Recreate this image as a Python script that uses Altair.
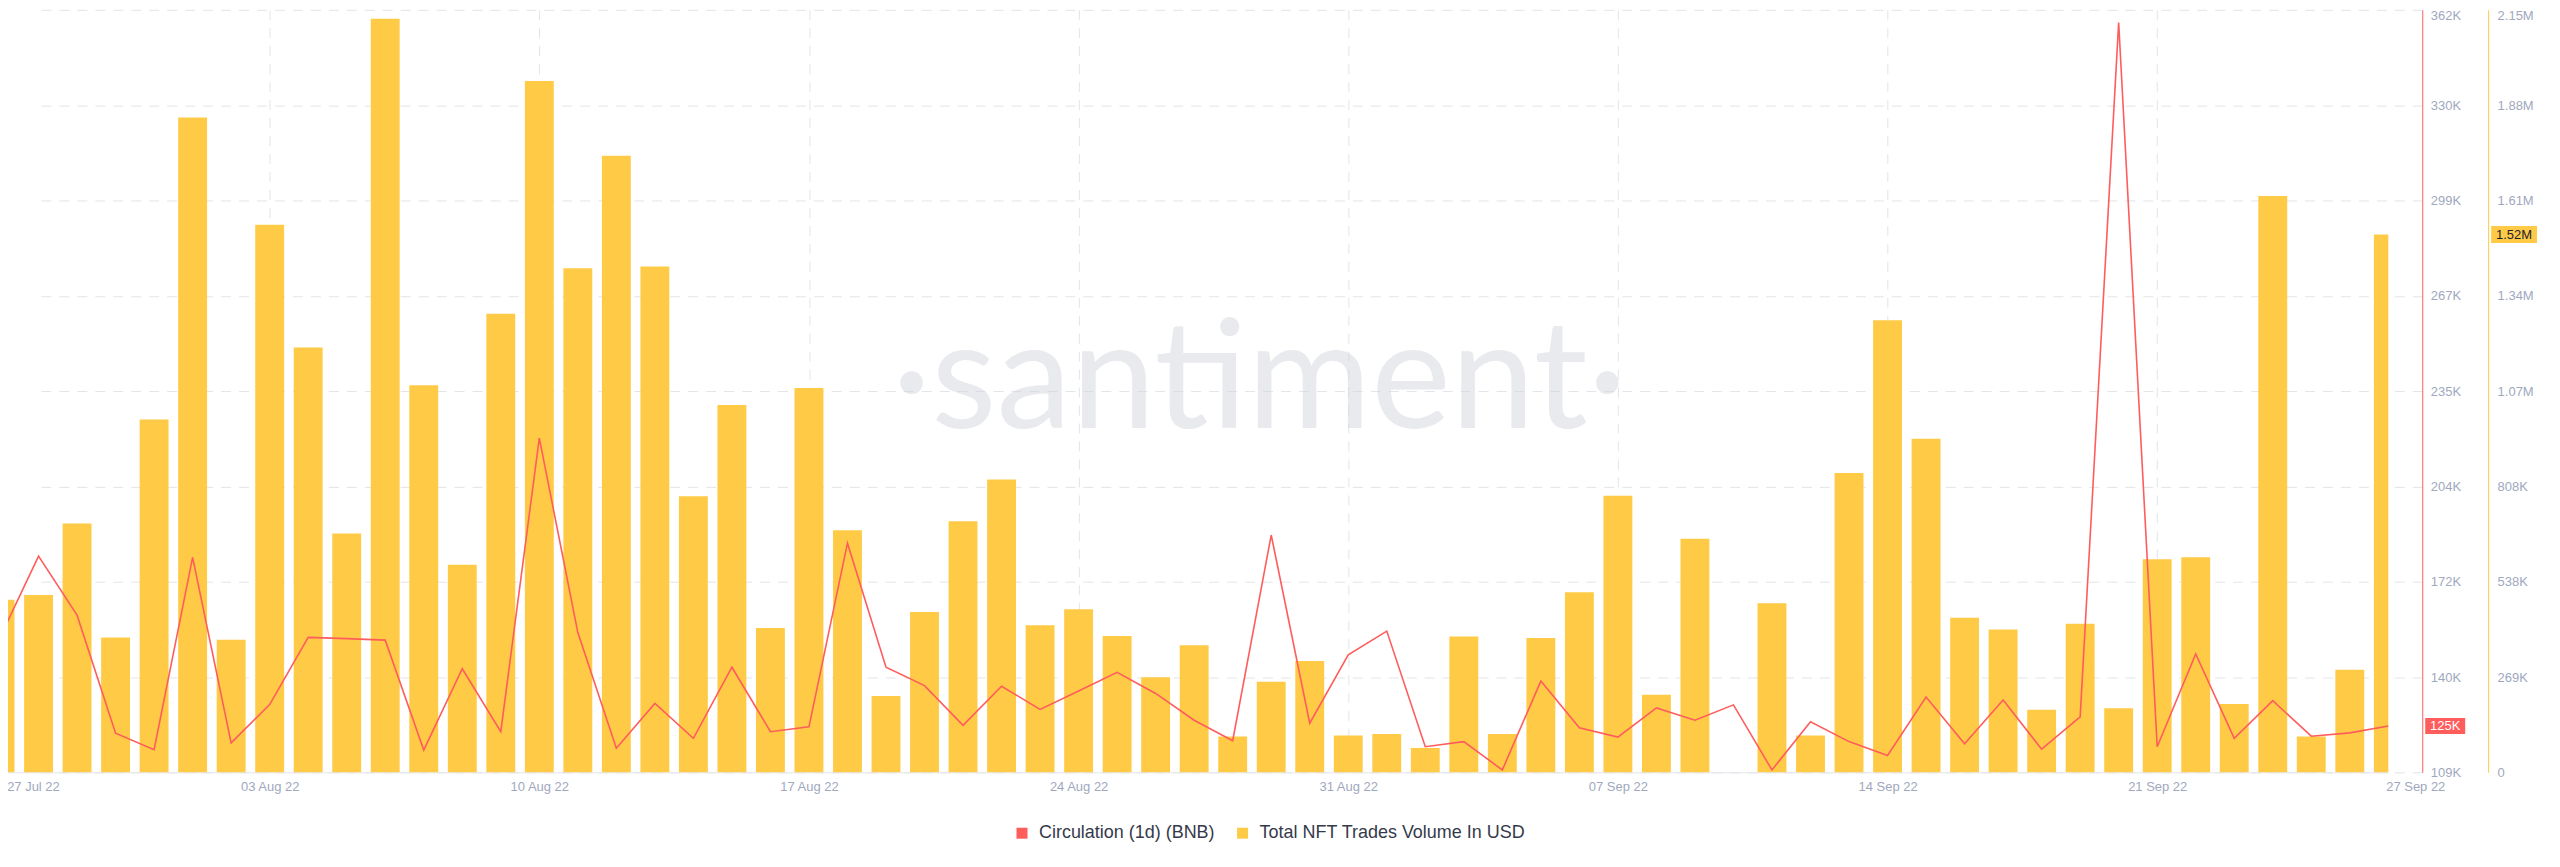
import altair as alt
import pandas as pd

# ---------------- data ----------------
START_DATE = "2022-07-27"
SERIES_CIRC = "Circulation (1d) (BNB)"
SERIES_VOL = "Total NFT Trades Volume In USD"

# Circulation (1d) in BNB, thousands, one value per day from 27 Jul 22 to 27 Sep 22
circulation_k = [
    154.0, 181.0, 161.4, 122.2, 116.7, 180.6, 119.0, 131.7, 154.0, 153.6,
    153.1, 116.6, 143.6, 122.7, 220.2, 155.6, 117.2, 132.1, 120.5, 144.1,
    122.7, 124.3, 185.3, 144.1, 138.0, 124.8, 137.8, 130.1, 136.2, 142.4,
    135.4, 126.5, 119.7, 188.0, 125.5, 148.2, 156.1, 117.7, 119.4, 110.0,
    139.5, 124.0, 120.9, 130.6, 126.5, 131.6, 110.0, 126.0, 119.4, 114.8,
    134.2, 118.7, 133.2, 116.9, 127.6, 358.2, 117.7, 148.5, 120.5, 133.0,
    121.2, 122.3, 124.6,
]

# Total NFT trades volume in USD, thousands (None = no bar that day)
volume_k = [
    488, 501, 703, 381, 997, 1851, 375, 1548, 1201, 675,
    2130, 1094, 587, 1296, 1954, 1425, 1743, 1430, 780, 1038,
    408, 1086, 684, 216, 453, 710, 828, 416, 461, 385,
    269, 359, 101, 256, 315, 104, 108, 69, 384, 108,
    380, 509, 782, 219, 660, None, 478, 104, 846, 1278,
    943, 437, 404, 177, 420, 181, 602, 608, 193, 1629,
    101, 290, 1520,
]

# x tick labels (month, day) in 2022
x_tick_days = [(7, 27), (8, 3), (8, 10), (8, 17), (8, 24), (8, 31),
               (9, 7), (9, 14), (9, 21), (9, 27)]

# axis scales
CIRC_MIN, CIRC_STEP = 109200, 31650
VOL_STEP = 269400

# ---------------- styling ----------------
RED = "#ff5c5c"
YELLOW = "#ffcb47"
LABEL = "#a0a8be"
GRID = "#e3e4ea"
FONT = "Liberation Sans"
W, H = 2427, 764
X_END = 2393

dates = pd.date_range(START_DATE, periods=len(circulation_k), freq="D")
df = pd.DataFrame({
    "date": dates,
    "circ": [v * 1000 for v in circulation_k],
    "vol": [None if v is None else v * 1000 for v in volume_k],
})

circ_ticks = [CIRC_MIN + i * CIRC_STEP for i in range(9)]
vol_ticks = [i * VOL_STEP for i in range(9)]
CIRC_MAX = CIRC_MIN + 8 * CIRC_STEP
VOL_MAX = 8 * VOL_STEP

x_scale = alt.Scale(
    domain=[alt.DateTime(year=2022, month=7, date=27),
            alt.DateTime(year=2022, month=9, date=27)],
    range=[0, X_END], clamp=True,
)
circ_scale = alt.Scale(domain=[CIRC_MIN, CIRC_MAX], nice=False, zero=False)
vol_scale = alt.Scale(domain=[0, VOL_MAX], nice=False, zero=True)

x_axis = alt.Axis(
    values=[alt.DateTime(year=2022, month=m, date=d) for m, d in x_tick_days],
    format="%d %b %y", title=None,
    labelFont=FONT, labelFontSize=13, labelColor=LABEL, labelPadding=8,
    ticks=False, tickSize=0, domainColor="#e4e5ea",
    grid=True, gridColor=GRID, gridDash=[10, 8],
    labelFlush=False, labelOverlap=False,
    labelOffset={"condition": [
        {"test": "datum.value < datetime(2022,6,28)", "value": 33},
        {"test": "datum.value > datetime(2022,8,26)", "value": 27}],
        "value": 0},
    gridOpacity={"condition": {"test": "datum.value > datetime(2022,8,26)", "value": 0},
                 "value": 1},
)

circ_axis = alt.Axis(
    orient="right", values=circ_ticks, title=None,
    labelExpr="floor(datum.value/1000) + 'K'",
    labelFont=FONT, labelFontSize=13, labelColor=LABEL, labelPadding=8,
    ticks=False, tickSize=0, domainColor=RED, labelFlush=False,
    labelOffset={"condition": {"test": f"datum.value > {CIRC_MAX - 1000}", "value": 6}, "value": 0},
    grid=True, gridColor=GRID, gridDash=[10, 8],
)

vol_axis = alt.Axis(
    orient="right", offset=66, values=vol_ticks, title=None,
    labelExpr="datum.value == 0 ? '0' : datum.value < 1000000 ? floor(datum.value/1000) + 'K' : format(floor(datum.value/10000)/100, '.2f') + 'M'",
    labelFont=FONT, labelFontSize=13, labelColor=LABEL, labelPadding=9,
    ticks=False, tickSize=0, domainColor=YELLOW, labelFlush=False, grid=False,
    labelOffset={"condition": {"test": f"datum.value > {VOL_MAX - 1000}", "value": 6}, "value": 0},
)

legend = alt.Legend(
    orient="none", legendX=1015, legendY=816, direction="horizontal", title=None,
    symbolType="square", symbolSize=121, symbolStrokeWidth=0,
    labelFont=FONT, labelFontSize=18, labelColor="#353a4a", labelOffset=8,
    labelLimit=500, columnPadding=18, padding=0,
)

base = alt.Chart(df)

watermark = alt.Chart(pd.DataFrame({"t": ["·santiment·"]})).mark_text(
    font="Liberation Sans Narrow, Lato, sans-serif", fontSize=151,
    color="#d4d6de", opacity=0.5, align="center", baseline="alphabetic",
).encode(x=alt.value(1262), y=alt.value(419), text="t:N")

bars = base.transform_filter("isValid(datum.vol)").transform_calculate(
    start="toDate(datum.date) - 32400000",
    end="toDate(datum.date) + 32400000",
    series="'" + SERIES_VOL + "'",
).mark_bar().encode(
    x=alt.X("start:T", scale=x_scale, axis=x_axis),
    x2="end:T",
    y=alt.Y("vol:Q", scale=vol_scale, axis=vol_axis, stack=None),
    y2=alt.datum(0),
    color=alt.Color("series:N",
                    scale=alt.Scale(domain=[SERIES_CIRC, SERIES_VOL], range=[RED, YELLOW]),
                    legend=legend),
)

line = base.mark_line(color=RED, strokeWidth=1.6).encode(
    x=alt.X("date:T", scale=x_scale, axis=x_axis),
    y=alt.Y("circ:Q", scale=circ_scale, axis=circ_axis),
)

tag_df = pd.DataFrame({
    "circ": [circulation_k[-1] * 1000],
    "vol": [volume_k[-1] * 1000],
    "circ_label": [f"{round(circulation_k[-1])}K"],
    "vol_label": [f"{volume_k[-1] / 1000:.2f}M"],
})
tags = alt.Chart(tag_df)

circ_tag_bg = tags.mark_point(
    shape="M-1,-0.4H1V0.4H-1Z", size=1600, filled=True, opacity=1, color=RED, strokeWidth=0
).encode(x=alt.value(2450), y=alt.Y("circ:Q", scale=circ_scale, axis=None))
circ_tag_txt = tags.mark_text(
    color="white", font=FONT, fontSize=13, align="center", baseline="middle"
).encode(x=alt.value(2450), y=alt.Y("circ:Q", scale=circ_scale, axis=None), text="circ_label:N")

vol_tag_bg = tags.mark_point(
    shape="M-1,-0.37H1V0.37H-1Z", size=2116, filled=True, opacity=1, color=YELLOW, strokeWidth=0
).encode(x=alt.value(2519), y=alt.Y("vol:Q", scale=vol_scale, axis=None))
vol_tag_txt = tags.mark_text(
    color="#1e2130", font=FONT, fontSize=13, align="center", baseline="middle"
).encode(x=alt.value(2519), y=alt.Y("vol:Q", scale=vol_scale, axis=None), text="vol_label:N")

chart = alt.layer(
    watermark, bars, line, circ_tag_bg, circ_tag_txt, vol_tag_bg, vol_tag_txt
).resolve_scale(
    y="independent"
).properties(
    width=W, height=H,
    padding={"left": -8, "top": 1, "right": 130, "bottom": 80},
    autosize=alt.AutoSizeParams(type="none"),
).configure_view(stroke=None)

chart.save("out.html", embed_options={"renderer": "svg", "actions": False})
